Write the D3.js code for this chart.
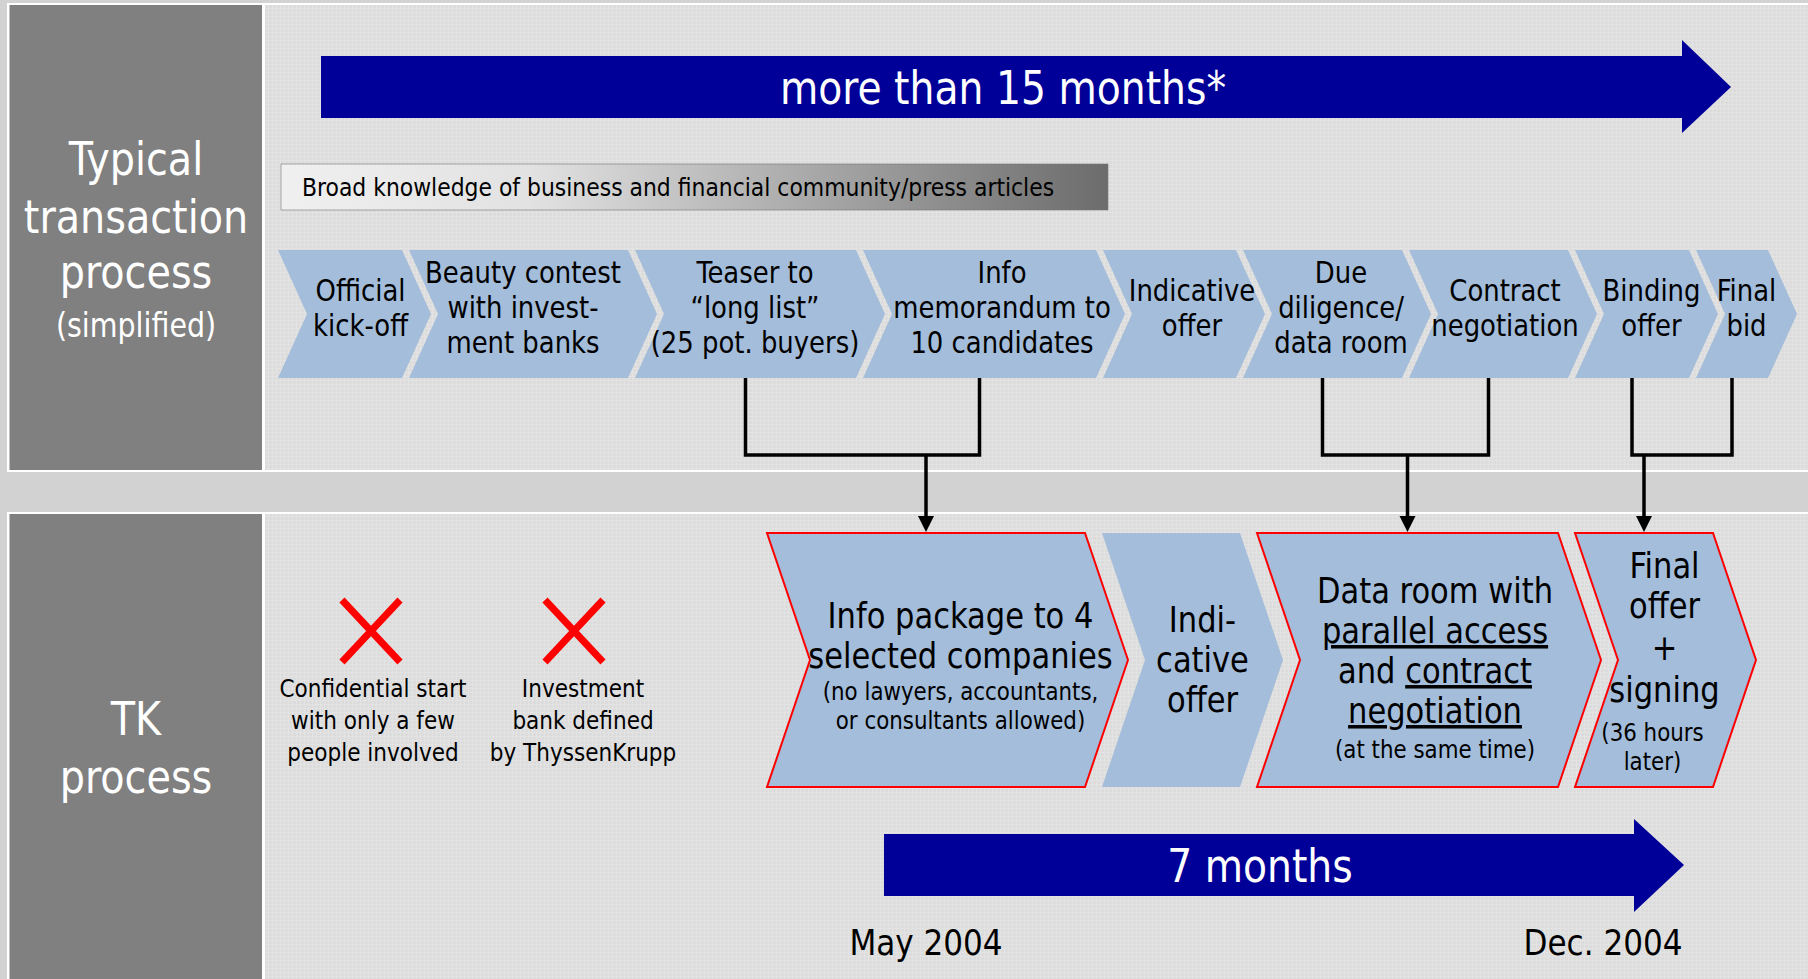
<!DOCTYPE html>
<html>
<head>
<meta charset="utf-8">
<script src="https://cdn.jsdelivr.net/npm/d3@7"></script>
<style>
  body { margin: 0; background: #d2d2d2; }
  svg { display: block; }
  text { font-family: "DejaVu Sans Condensed", "DejaVu Sans", sans-serif; }
</style>
</head>
<body>
<div id="chart"></div>
<script>
// top row: typical transaction process
const topSteps = [
  ["Official", "kick-off"],
  ["Beauty contest", "with invest-", "ment banks"],
  ["Teaser to", "“long list”", "(25 pot. buyers)"],
  ["Info", "memorandum to", "10 candidates"],
  ["Indicative", "offer"],
  ["Due", "diligence/", "data room"],
  ["Contract", "negotiation"],
  ["Binding", "offer"],
  ["Final", "bid"]
]
const topWeights = [131, 226, 228, 240, 140, 166, 166, 121, 79]

// bottom row: TK process  (lines starting with "~" are the small notes, _x_ is underlined)
const tkSteps = [
  ["Info package to 4", "selected companies", "~(no lawyers, accountants,", "~or consultants allowed)"],
  ["Indi-", "cative", "offer"],
  ["Data room with", "_parallel access_", "and _contract_", "_negotiation_", "~(at the same time)"],
  ["Final", "offer", "+", "signing", "~(36 hours", "~later)"]
]
const tkWeights = [335, 155, 318, 155]
const tkHighlight = [true, false, true, true]

// which top steps merge into which TK step
const merges = [
  { from: [2, 3], to: 0 },
  { from: [5, 6], to: 2 },
  { from: [7, 8], to: 3 }
]

const skipped = [
  ["Confidential start", "with only a few", "people involved"],
  ["Investment", "bank defined", "by ThyssenKrupp"]
]

const topDuration = "more than 15 months*"
const tkDuration = "7 months"
const tkDates = [new Date(2004, 4, 1), new Date(2004, 11, 1)]
const tkDateLabels = ["May 2004", "Dec. 2004"]

const width = 1808
const height = 979
const navy = "#000099"
const chevronFill = "#a3bdda"
const SX = 0.95

const svg = d3.select("#chart").append("svg")
  .attr("width", width)
  .attr("height", height)

const defs = svg.append("defs")
const pat = defs.append("pattern")
  .attr("id", "grid")
  .attr("width", 4).attr("height", 4)
  .attr("patternUnits", "userSpaceOnUse")
pat.append("rect").attr("width", 4).attr("height", 4).attr("fill", "#dcdcdc")
pat.append("path").attr("d", "M0,0.5H4M0.5,0V4").attr("stroke", "#e3e3e3").attr("stroke-width", 1)

const grad = defs.append("linearGradient").attr("id", "fade")
grad.append("stop").attr("offset", "0%").attr("stop-color", "#f0f0f0")
grad.append("stop").attr("offset", "30%").attr("stop-color", "#e2e2e2")
grad.append("stop").attr("offset", "100%").attr("stop-color", "#6c6c6c")

// one line of (slightly condensed) text
function label(g, x, y, str, size, opts = {}) {
  const t = g.append("text")
    .attr("transform", `translate(${x},${y}) scale(${opts.sx || SX},1)`)
    .attr("text-anchor", opts.anchor || "middle")
    .attr("font-size", size)
    .attr("fill", opts.fill || "#000")
  str.split("_").forEach((seg, k) => {
    if (!seg) return
    t.append("tspan").attr("text-decoration", k % 2 ? "underline" : null).text(seg)
  })
  return t
}

// panels
function panel(y0, y1) {
  svg.append("rect").attr("x", 7).attr("y", y0 - 2).attr("width", width - 7).attr("height", y1 - y0 + 4).attr("fill", "#fff")
  svg.append("rect").attr("x", 9.5).attr("y", y0).attr("width", 252.5).attr("height", y1 - y0).attr("fill", "#808080")
  svg.append("rect").attr("x", 265).attr("y", y0).attr("width", width - 265).attr("height", y1 - y0).attr("fill", "url(#grid)")
}
panel(5, 470)
panel(514, 990)

const leftTitle = svg.append("g")
;[["Typical", 175, 46], ["transaction", 233, 46], ["process", 288, 46], ["(simplified)", 337, 33],
  ["TK", 735, 46], ["process", 793, 46]].forEach(d => {
  label(leftTitle, 136, d[1], d[0], d[2], { fill: "#fff", sx: 0.96 })
})

// duration arrows
function bigArrow(x0, x1, tip, y0, y1, h0, h1) {
  const ym = (y0 + y1) / 2
  return d3.line()([[x0, y0], [x1, y0], [x1, h0], [tip, ym], [x1, h1], [x1, y1], [x0, y1]]) + "Z"
}
svg.append("path").attr("d", bigArrow(321, 1682, 1731, 56, 118, 40, 133)).attr("fill", navy)
label(svg, 1003, 104, topDuration, 46, { fill: "#fff" })

// background knowledge bar
svg.append("rect").attr("x", 281).attr("y", 164).attr("width", 827).attr("height", 46)
  .attr("fill", "url(#fade)").attr("stroke", "#777").attr("stroke-width", 0.6)
label(svg, 302, 196, "Broad knowledge of business and financial community/press articles", 25, { anchor: "start", sx: 0.975 })

// chevron helper
function chevron(x0, x1, y0, y1, d) {
  const ym = (y0 + y1) / 2
  return d3.line()([[x0, y0], [x1, y0], [x1 + d, ym], [x1, y1], [x0, y1], [x0 + d, ym]]) + "Z"
}

// top row
const topEdges = d3.cumsum([0].concat(topWeights))
const xTop = d3.scaleLinear().domain([0, d3.sum(topWeights)]).range([278, 1775])
const topGap = 7, topDepth = 29, topY0 = 250, topY1 = 378
const topNudge = [6, -10, -5, 8, 8, 4, 2, 5, 0]
const topG = svg.append("g")
topSteps.forEach((lines, i) => {
  const a = xTop(topEdges[i]), b = xTop(topEdges[i + 1]) - topGap
  topG.append("path").attr("d", chevron(a, b, topY0, topY1, topDepth)).attr("fill", chevronFill)
  const cx = (a + b) / 2 + topDepth / 2 + topNudge[i]
  const first = 318 - (lines.length - 1) / 2 * 35
  lines.forEach((l, j) => label(topG, cx, first + j * 35, l, 30, { sx: 0.96 }))
})
const topMid = i => (xTop(topEdges[i]) + xTop(topEdges[i + 1]) - topGap) / 2

// bottom row
const tkEdges = d3.cumsum([0].concat(tkWeights))
const xTk = d3.scaleLinear().domain([0, d3.sum(tkWeights)]).range([767, 1730])
const tkGap = 17, tkDepth = 43, tkY0 = 533, tkY1 = 787
const tkShift = [2.5, -4, 4.5, -2]
const tkNudge = [3, 0, -4, -11]
const tkNoteNudge = [0, 0, 0, -12]
const tkNoteGap = [32, 34, 35, 39]
const tkG = svg.append("g")
tkSteps.forEach((lines, i) => {
  const a = xTk(tkEdges[i]), b = xTk(tkEdges[i + 1]) - tkGap
  tkG.append("path").attr("d", chevron(a, b, tkY0, tkY1, tkDepth))
    .attr("fill", chevronFill)
    .attr("stroke", tkHighlight[i] ? "#ff0000" : "none")
    .attr("stroke-width", 2)
  const cx = (a + b) / 2 + tkDepth / 2 + 10 + tkNudge[i]
  const small = lines.map(l => l.startsWith("~"))
  const adv = lines.map((l, j) => {
    if (j === 0) return 0
    if (small[j]) return small[j - 1] ? 29 : tkNoteGap[i]
    if (l === "+" || lines[j - 1] === "+") return 42
    return 40
  })
  const ys = d3.cumsum(adv)
  const total = ys[ys.length - 1]
  const first = 676 - total / 2 + tkShift[i]
  lines.forEach((l, j) => {
    const s = small[j]
    label(tkG, cx + (s ? tkNoteNudge[i] : 0), first + ys[j], s ? l.slice(1) : l, s ? 24 : 35, { sx: s ? 0.99 : 0.97 })
  })
})
const tkMid = i => (xTk(tkEdges[i]) + xTk(tkEdges[i + 1]) - tkGap) / 2

// connectors
const conn = svg.append("g").attr("stroke", "#000").attr("stroke-width", 3.5).attr("fill", "none")
merges.forEach(m => {
  const xs = m.from.map(topMid)
  const tx = tkMid(m.to)
  conn.append("path").attr("d", d3.line()([[xs[0], topY1], [xs[0], 455], [xs[1], 455], [xs[1], topY1]]))
  conn.append("path").attr("d", d3.line()([[tx, 455], [tx, tkY0 - 14]]))
  svg.append("path").attr("d", d3.line()([[tx - 8, tkY0 - 17], [tx + 8, tkY0 - 17], [tx, tkY0 - 1]]) + "Z").attr("fill", "#000")
})

// skipped steps (red crosses)
const skipX = [371, 574]
skipped.forEach((lines, i) => {
  const cx = skipX[i]
  const g = svg.append("g")
  g.append("path").attr("d", `M${cx - 29},600L${cx + 29},662M${cx + 29},600L${cx - 29},662`)
    .attr("stroke", "#ff0000").attr("stroke-width", 7)
  lines.forEach((l, j) => label(g, cx + 2 + (i ? 7 : 0), 697 + j * 32, l, 25, { sx: 0.96 }))
})

// TK timeline
const xTime = d3.scaleTime().domain(tkDates).range([926, 1603])
svg.append("path").attr("d", bigArrow(xTime(tkDates[0]) - 42, 1634, 1684, 834, 896, 819, 912)).attr("fill", navy)
label(svg, 1260, 882, tkDuration, 46, { fill: "#fff" })
tkDates.forEach((d, i) => label(svg, xTime(d), 955, tkDateLabels[i], 36, { sx: 0.96 }))
</script>
</body>
</html>
